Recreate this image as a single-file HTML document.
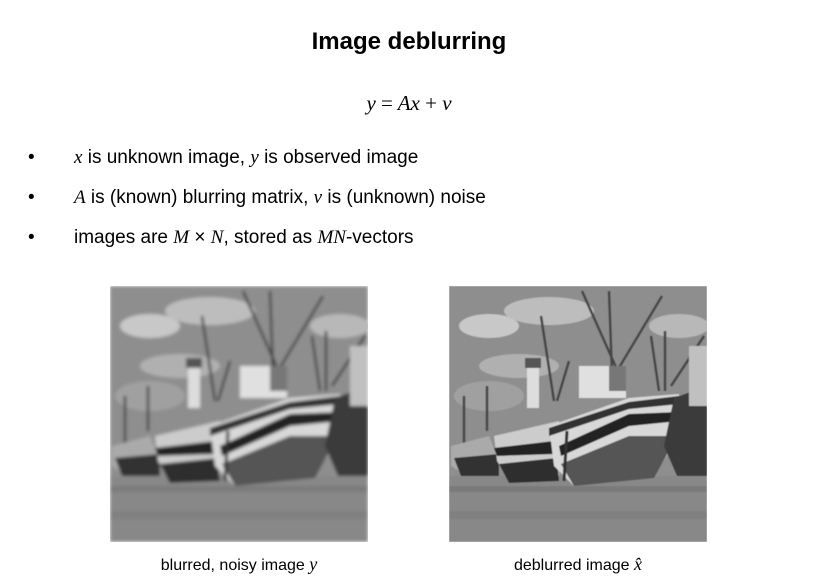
<!DOCTYPE html>
<html><head><meta charset="utf-8"><style>
body{margin:0;width:818px;height:581px;background:#fff;position:relative;overflow:hidden;font-family:"Liberation Sans",sans-serif;color:#000}
.t{position:absolute;white-space:nowrap}
.m{font-family:"Liberation Serif",serif;font-style:italic}
.b{position:absolute;left:30px;font-size:19px}
.b:before{content:"•";position:absolute;left:-2px;}
</style></head><body>
<div class="t" style="left:0;width:818px;text-align:center;top:28px;font-size:24px;font-weight:bold">Image deblurring</div>
<div class="t m" style="left:0;width:818px;text-align:center;top:91px;font-size:21px">y <span style="font-style:normal">=</span> Ax <span style="font-style:normal">+</span> v</div>
<div class="t b" style="top:147px"><span style="margin-left:44px"><span class="m">x</span> is unknown image, <span class="m">y</span> is observed image</span></div>
<div class="t b" style="top:187px"><span style="margin-left:44px"><span class="m">A</span> is (known) blurring matrix, <span class="m">v</span> is (unknown) noise</span></div>
<div class="t b" style="top:227px"><span style="margin-left:44px">images are <span class="m">M</span> × <span class="m">N</span>, stored as <span class="m">MN</span>-vectors</span></div>
<svg width="0" height="0" style="position:absolute">
<defs>
<filter id="bl1"><feGaussianBlur stdDeviation="1.6"/></filter>
<filter id="bl2"><feGaussianBlur stdDeviation="0.6"/></filter>
<g id="boat">
<rect width="258" height="256" fill="#8e8e8e"/>
<ellipse cx="40" cy="40" rx="30" ry="12" fill="#c8c8c8"/>
<ellipse cx="100" cy="25" rx="45" ry="14" fill="#bdbdbd"/>
<ellipse cx="70" cy="80" rx="40" ry="12" fill="#b0b0b0"/>
<ellipse cx="230" cy="40" rx="30" ry="12" fill="#b8b8b8"/>
<ellipse cx="40" cy="110" rx="35" ry="15" fill="#a0a0a0"/>
<rect y="190" width="258" height="66" fill="#888"/>
<rect y="200" width="258" height="6" fill="#7a7a7a"/>
<rect y="225" width="258" height="8" fill="#808080"/>
<g stroke="#444" stroke-width="2.5" fill="none">
<line x1="133" y1="5" x2="170" y2="88"/><line x1="160" y1="5" x2="163" y2="88"/>
<line x1="213" y1="10" x2="168" y2="85"/><line x1="92" y1="30" x2="105" y2="115"/>
<line x1="202" y1="50" x2="210" y2="105"/><line x1="216" y1="45" x2="216" y2="105"/>
<line x1="255" y1="50" x2="222" y2="100"/><line x1="120" y1="75" x2="108" y2="115"/>
<line x1="15" y1="110" x2="15" y2="160"/><line x1="38" y1="100" x2="38" y2="145"/>
</g>
<rect x="78" y="72" width="12" height="50" fill="#ddd"/>
<rect x="76" y="72" width="16" height="10" fill="#555"/>
<polygon points="2,160 40,150 50,175 10,185 2,180" fill="#aaa"/>
<polygon points="5,172 50,168 50,190 12,190" fill="#333"/>
<polygon points="45,150 110,135 110,190 60,195 48,175" fill="#ccc"/>
<polygon points="45,162 105,155 105,168 48,170" fill="#222"/>
<polygon points="50,178 108,172 110,195 60,197" fill="#2e2e2e"/>
<rect x="130" y="80" width="47" height="32" fill="#e0e0e0"/>
<rect x="160" y="80" width="17" height="25" fill="#777"/>
<polygon points="100,140 180,112 230,108 230,150 205,190 125,200 105,180" fill="#d8d8d8"/>
<polygon points="100,142 180,116 230,110 230,118 180,123 100,150" fill="#333"/>
<polygon points="110,160 180,128 230,126 230,135 180,140 112,170" fill="#222"/>
<polygon points="112,178 180,150 228,150 205,192 125,200" fill="#555"/>
<polygon points="225,112 258,100 258,190 228,190 215,160" fill="#3a3a3a"/>
<rect x="240" y="60" width="18" height="60" fill="#c0c0c0"/>
<line x1="118" y1="145" x2="115" y2="195" stroke="#333" stroke-width="3"/>
</g>
</defs></svg>
<svg style="position:absolute;left:110px;top:286px" width="258" height="256"><g filter="url(#bl1)"><use href="#boat"/></g></svg>
<svg style="position:absolute;left:449px;top:286px" width="258" height="256"><g filter="url(#bl2)"><use href="#boat"/></g></svg>
<div class="t" style="left:110px;width:258px;text-align:center;top:554px;font-size:16px">blurred, noisy image <span class="m" style="font-size:18px">y</span></div>
<div class="t" style="left:449px;width:258px;text-align:center;top:554px;font-size:16px">deblurred image <span class="m" style="font-size:18px">x̂</span></div>
</body></html>
